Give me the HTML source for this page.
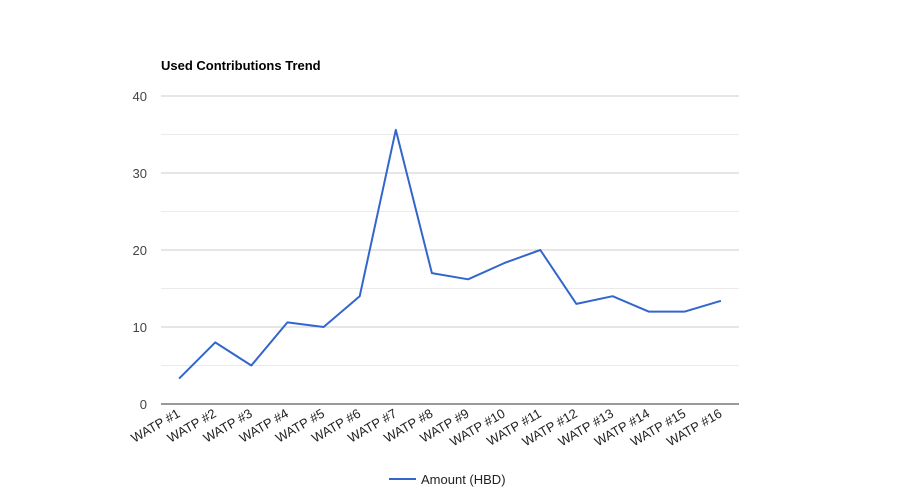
<!DOCTYPE html>
<html><head><meta charset="utf-8"><style>
html,body{margin:0;padding:0;background:#fff;}
svg{display:block;font-family:"Liberation Sans",Arial,sans-serif;}
</style></head><body>
<svg id="chart" width="900" height="500" viewBox="0 0 900 500" xmlns="http://www.w3.org/2000/svg">
<rect width="900" height="500" fill="#fff"/>
<text x="161" y="70" font-size="13" font-weight="bold" fill="#000">Used Contributions Trend</text>
<g id="grid"></g>
<g id="yticks"></g>
<g id="xticks"></g>
<g id="series"></g>
<g>
<line x1="389" y1="479" x2="416" y2="479" stroke="#3366cc" stroke-width="2"/>
<text x="421" y="484" font-size="13" fill="#222">Amount (HBD)</text>
</g>
</svg>
<script>
const categories = ["WATP #1","WATP #2","WATP #3","WATP #4","WATP #5","WATP #6","WATP #7","WATP #8","WATP #9","WATP #10","WATP #11","WATP #12","WATP #13","WATP #14","WATP #15","WATP #16"];
const amounts = [3.3, 8, 5, 10.6, 10, 14, 35.6, 17, 16.2, 18.3, 20, 13, 14, 12, 12, 13.4];
const yTicks = [0, 10, 20, 30, 40];
const yMinor = [5, 15, 25, 35];

const NS = "http://www.w3.org/2000/svg";
const plotLeft = 161, plotRight = 739, plotTop = 96, plotBottom = 404, yMax = 40;
const step = (plotRight - plotLeft) / categories.length;
function xPos(i){ return plotLeft + step * (i + 0.5); }
function yPos(v){ return plotBottom - (v / yMax) * (plotBottom - plotTop); }
function mk(tag, attrs, parent){ const e = document.createElementNS(NS, tag); for (const k in attrs) e.setAttribute(k, attrs[k]); parent.appendChild(e); return e; }

const grid = document.getElementById('grid');
yMinor.forEach(v => {
  const l = mk('line', {x1:plotLeft, x2:plotRight, y1:yPos(v), y2:yPos(v), stroke:'#ebebeb', 'stroke-width':1}, grid);
  
  
});
yTicks.forEach(v => {
  const l = mk('line', {x1:plotLeft, x2:plotRight, y1:yPos(v), y2:yPos(v), stroke: v === 0 ? '#333' : '#ccc', 'stroke-width':1}, grid);
  
  
});
const yt = document.getElementById('yticks');
yTicks.forEach(v => {
  const t = mk('text', {x:147, y:yPos(v) + 5, 'text-anchor':'end', 'font-size':13, fill:'#444'}, yt);
  t.textContent = v;
  
  
});
const xt = document.getElementById('xticks');
categories.forEach((c, i) => {
  const x = xPos(i) + 2, y = 416;
  const t = mk('text', {x:x, y:y, 'text-anchor':'end', 'font-size':13, fill:'#222', transform:'rotate(-30 ' + x + ' ' + y + ')'}, xt);
  t.textContent = c;
  
  
});
const s = document.getElementById('series');
const pts = amounts.map((v, i) => xPos(i).toFixed(1) + ',' + yPos(v).toFixed(1)).join(' ');
const pl = mk('polyline', {points:pts, fill:'none', stroke:'#3366cc', 'stroke-width':2, 'stroke-linejoin':'round'}, s);


</script>
</body></html>
